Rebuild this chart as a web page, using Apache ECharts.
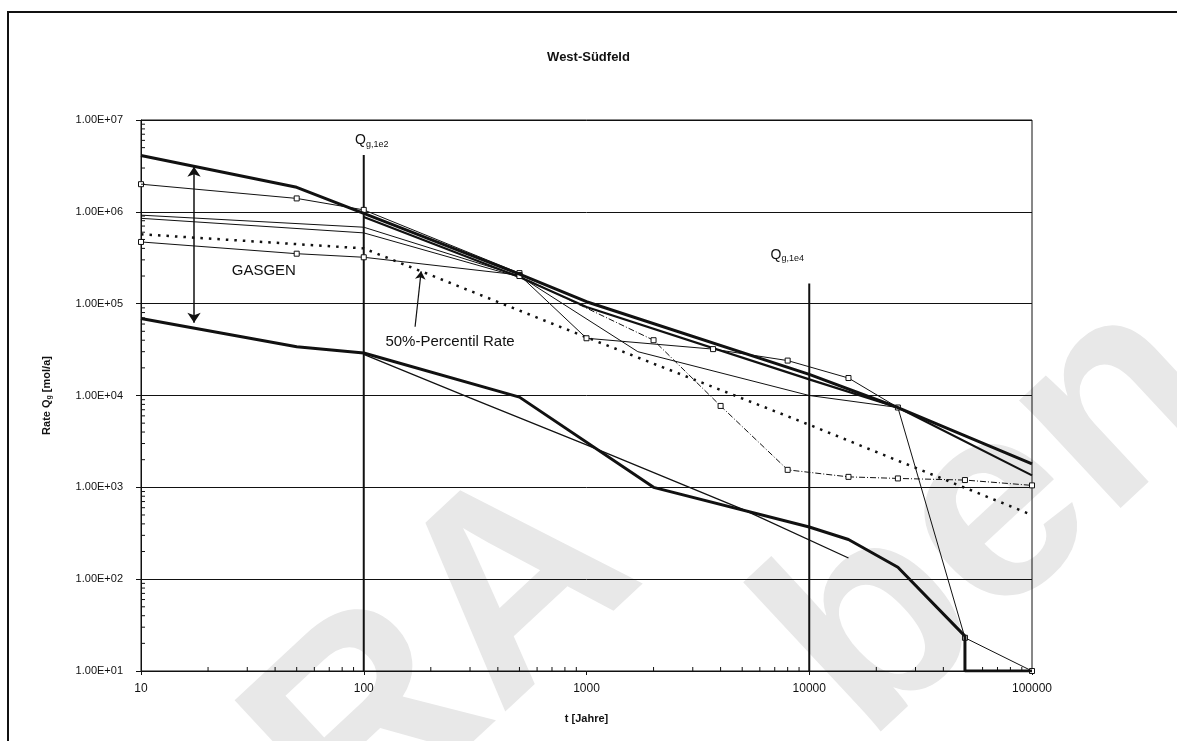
<!DOCTYPE html>
<html>
<head>
<meta charset="utf-8">
<script src="https://cdn.jsdelivr.net/npm/echarts@6/dist/echarts.min.js"></script>
<style>
  html, body { margin: 0; padding: 0; background: #fff; }
  #chart { width: 1177px; height: 741px; }
</style>
</head>
<body>
<div id="chart"></div>
<script>
// West-Südfeld: gas release rates Q_g over time (log-log)
const xTicks = [10, 100, 1000, 10000, 100000];
const yTicks = [1e1, 1e2, 1e3, 1e4, 1e5, 1e6, 1e7];

// upper GASGEN envelope (thick)
const upperEnvelope = [[10, 4.1e6], [50, 1.85e6], [100, 9.6e5], [500, 2.1e5], [1000, 1.05e5], [10000, 1.7e4], [25000, 7.4e3], [100000, 1.8e3]];
const upperBand = [[100, 8.8e5], [500, 1.95e5], [1000, 9.2e4], [10000, 1.5e4], [25000, 7.4e3], [100000, 1.35e3]];
// individual realisations
const runB = [[10, 2.0e6], [50, 1.4e6], [100, 1.05e6], [500, 2.15e5]];
const runC = [[10, 9.2e5], [100, 6.8e5], [500, 2.0e5]];
const runD = [[10, 8.5e5], [100, 5.9e5], [500, 1.95e5]];
const runE = [[10, 4.7e5], [50, 3.5e5], [100, 3.2e5], [500, 2.05e5], [1000, 4.2e4], [3700, 3.2e4], [8000, 2.4e4], [15000, 1.55e4], [25000, 7.4e3], [50000, 23], [100000, 10]];
const runX = [[500, 2.0e5], [2000, 4.0e4], [4000, 7.7e3], [8000, 1.55e3], [15000, 1.3e3], [25000, 1.25e3], [50000, 1.2e3], [100000, 1.05e3]];
const runZ = [[500, 2.0e5], [1700, 3.0e4], [10000, 1.0e4], [25000, 7.4e3]];
// 50 % percentile rate (dotted)
const percentile50 = [[10, 5.7e5], [100, 4.0e5], [1000, 4.3e4], [10000, 4.8e3], [100000, 5.0e2]];
// lower GASGEN envelope (thick) and one realisation below
const lowerEnvelope = [[10, 6.9e4], [50, 3.4e4], [100, 2.9e4], [500, 9.6e3], [2000, 1.0e3], [10000, 3.7e2], [15000, 2.7e2], [25000, 1.35e2], [50000, 24], [50000, 10], [100000, 10]];
const lowerRun = [[100, 2.8e4], [300, 9.4e3], [1000, 2.9e3], [5000, 5.8e2], [15000, 1.7e2]];
// reference times Q_g,1e2 and Q_g,1e4
const q1e2 = [[100, 4.15e6], [100, 10]];
const q1e4 = [[10000, 1.66e5], [10000, 10]];

// logarithmic minor ticks (2..9 per decade)
const minorX = [], minorY = [];
for (let e = 1; e < 5; e++) for (let m = 2; m < 10; m++) minorX.push(m * Math.pow(10, e));
for (let e = 1; e < 7; e++) for (let m = 2; m < 10; m++) minorY.push(m * Math.pow(10, e));

function sciLabel(v) {
  const e = Math.round(Math.log10(v));
  const m = v / Math.pow(10, e);
  return m.toFixed(2) + 'E+' + String(e).padStart(2, '0');
}

const FONT = 'Liberation Sans, Arial, sans-serif';
const chart = echarts.init(document.getElementById('chart'), null, { renderer: 'canvas' });

function thin(name, data, opts) {
  return Object.assign({
    name, type: 'line', data, symbol: 'none', silent: true,
    lineStyle: { color: '#111', width: 1 }, z: 3
  }, opts || {});
}

const subRich = {
  q: { fontFamily: FONT, fontSize: 14, color: '#111' },
  s: { fontFamily: FONT, fontSize: 9, color: '#111', padding: [8, 0, 0, 0] }
};

const markFont = { fontFamily: FONT, fontSize: 15, color: '#111' };
const wmFont = 'bold 280px Liberation Sans, Arial, sans-serif';

const option = {
  backgroundColor: '#fff',
  animation: false,
  title: {
    text: 'West-Südfeld', left: 'center', top: 46,
    textStyle: { fontFamily: FONT, fontSize: 13, fontWeight: 'bold', color: '#111' }
  },
  grid: { left: 141, right: 145, top: 120, bottom: 70, show: true, borderColor: '#111', borderWidth: 1, backgroundColor: 'transparent' },
  xAxis: {
    type: 'log', logBase: 10, min: 10, max: 100000,
    name: 't [Jahre]', nameLocation: 'middle', nameGap: 42,
    nameTextStyle: { fontFamily: FONT, fontSize: 11, fontWeight: 'bold', color: '#111' },
    axisLine: { lineStyle: { color: '#111', width: 1 } },
    axisTick: { show: true, inside: false, length: 4, lineStyle: { color: '#111' } },
    axisLabel: { fontFamily: FONT, fontSize: 12, color: '#111', margin: 12, formatter: v => String(Math.round(v)) },
    splitLine: { show: false }
  },
  yAxis: {
    type: 'log', logBase: 10, min: 10, max: 1e7,
    name: '{a|Rate Q}{s|g}{a| [mol/a]}', nameLocation: 'middle', nameGap: 88, nameRotate: 90,
    nameTextStyle: {
      fontFamily: FONT, fontWeight: 'bold', color: '#111',
      rich: {
        a: { fontFamily: FONT, fontSize: 11, fontWeight: 'bold', color: '#111' },
        s: { fontFamily: FONT, fontSize: 7, fontWeight: 'bold', color: '#111', padding: [6, 0, 0, 0] }
      }
    },
    axisLine: { lineStyle: { color: '#111', width: 1 } },
    axisTick: { show: true, length: 5, lineStyle: { color: '#111' } },
    axisLabel: { fontFamily: FONT, fontSize: 11, color: '#111', margin: 18, formatter: sciLabel },
    splitLine: { show: true, lineStyle: { color: '#111', width: 1 } }
  },
  graphic: [
    // outer frame of the figure
    { type: 'polyline', shape: { points: [[8, 741], [8, 12], [1177, 12]] }, style: { stroke: '#111', lineWidth: 2, fill: null }, z: 1 },
    // light watermark lettering behind the plot
    { type: 'text', x: 395, y: 900, rotation: 0.75, z: -5, silent: true,
      style: { text: 'RA', font: wmFont, fill: '#e8e8e8', verticalAlign: 'bottom', textVerticalAlign: 'bottom' } },
    { type: 'text', x: 910, y: 790, rotation: 0.75, z: -5, silent: true,
      style: { text: 'ben', font: wmFont, fill: '#e8e8e8', verticalAlign: 'bottom', textVerticalAlign: 'bottom' } }
  ],
  series: [
    {
      name: 'minorTicks', type: 'custom', silent: true, z: 5,
      data: minorX.map(v => [v, 'x']).concat(minorY.map(v => [v, 'y'])),
      renderItem: function (params, api) {
        const v = api.value(0);
        const isX = params.dataIndex < minorX.length;
        if (isX) {
          const p = api.coord([v, 10]);
          return { type: 'line', shape: { x1: p[0], y1: p[1], x2: p[0], y2: p[1] - 4 }, style: { stroke: '#111', lineWidth: 1 } };
        }
        const p = api.coord([10, v]);
        return { type: 'line', shape: { x1: p[0], y1: p[1], x2: p[0] + 4, y2: p[1] }, style: { stroke: '#111', lineWidth: 1 } };
      }
    },
    thin('Q_g,1e2', q1e2, {
      lineStyle: { color: '#111', width: 2 },
      markPoint: {
        symbol: 'circle', symbolSize: 0,
        label: { show: true, position: 'top', distance: 6, offset: [8, 0], formatter: '{q|Q}{s|g,1e2}', rich: subRich },
        data: [{ coord: q1e2[0] }]
      }
    }),
    thin('Q_g,1e4', q1e4, {
      lineStyle: { color: '#111', width: 2 },
      markPoint: {
        symbol: 'circle', symbolSize: 0,
        label: { show: true, position: 'top', distance: 20, offset: [-22, 0], formatter: '{q|Q}{s|g,1e4}', rich: subRich },
        data: [{ coord: q1e4[0] }]
      }
    }),
    thin('upperEnvelope', upperEnvelope, { lineStyle: { color: '#111', width: 3 }, z: 4 }),
    thin('upperBand', upperBand, { lineStyle: { color: '#111', width: 2.2 } }),
    thin('runB', runB, { symbol: 'rect', symbolSize: 5, itemStyle: { color: '#fff', borderColor: '#111', borderWidth: 1 } }),
    thin('runC', runC),
    thin('runD', runD),
    thin('runE', runE, { symbol: 'rect', symbolSize: 5, itemStyle: { color: '#fff', borderColor: '#111', borderWidth: 1 } }),
    thin('runX', runX, { symbol: 'rect', symbolSize: 5, lineStyle: { color: '#111', width: 1, type: [6, 2, 1, 2] }, itemStyle: { color: '#fff', borderColor: '#111', borderWidth: 1 } }),
    thin('runZ', runZ),
    thin('percentile50', percentile50, {
      lineStyle: { color: '#111', width: 2.5, type: [2.5, 6] },
      markLine: {
        silent: true, symbol: ['none', 'arrow'], symbolSize: 8,
        lineStyle: { color: '#111', width: 1.2, type: 'solid' },
        label: { show: false },
        data: [[{ coord: [170, 5.6e4] }, { coord: [181, 2.25e5] }]]
      },
      markPoint: {
        symbol: 'circle', symbolSize: 0,
        label: Object.assign({ show: true, formatter: '50%-Percentil Rate', position: 'inside' }, markFont),
        data: [{ coord: [244, 3.8e4] }]
      }
    }),
    thin('lowerEnvelope', lowerEnvelope, {
      lineStyle: { color: '#111', width: 3 }, z: 4,
      markLine: {
        silent: true, symbol: ['arrow', 'arrow'], symbolSize: 10,
        lineStyle: { color: '#111', width: 1.5, type: 'solid' },
        label: { show: false },
        data: [[{ coord: [17.3, 3.1e6] }, { coord: [17.3, 6.2e4] }]]
      },
      markPoint: {
        symbol: 'circle', symbolSize: 0,
        label: Object.assign({ show: true, formatter: 'GASGEN', position: 'inside' }, markFont),
        data: [{ coord: [35.6, 2.25e5] }]
      }
    }),
    thin('lowerRun', lowerRun, { lineStyle: { color: '#111', width: 1.3 } })
  ]
};

chart.setOption(option);
</script>
</body>
</html>
